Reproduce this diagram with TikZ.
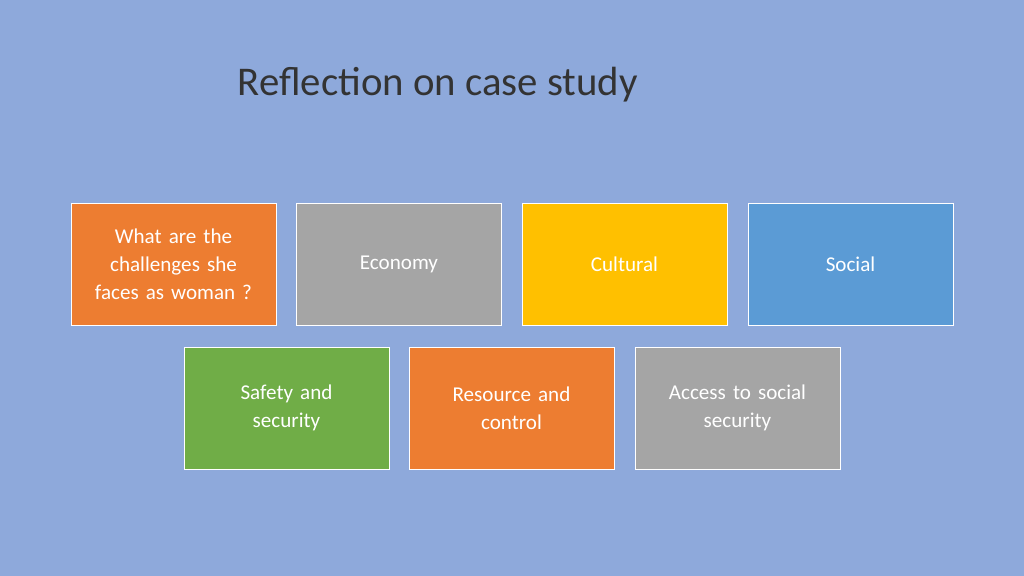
\documentclass[tikz,border=0pt]{standalone}
\usepackage{fontspec}
\setmainfont{Carlito}
\definecolor{bgblue}{HTML}{8EA9DB}
\definecolor{orangebox}{HTML}{ED7D31}
\definecolor{graybox}{HTML}{A5A5A5}
\definecolor{goldbox}{HTML}{FFC000}
\definecolor{bluebox}{HTML}{5B9BD5}
\definecolor{greenbox}{HTML}{70AD47}
\begin{document}
\begin{tikzpicture}[x=0.025cm,y=-0.025cm,
  topic/.style={draw=white,thin,minimum width=5.125cm,minimum height=3.05cm,
    text width=4.6cm,align=center,text=white,font=\fontsize{15}{20}\selectfont}]
\fill[bgblue] (0,0) rectangle (1024,576); % le fond
\node[anchor=west,font=\fontsize{29}{34}\selectfont,text=black!80] (title) at (233,85) {Reflection on case study};
% premiere rangee
\node[topic,fill=orangebox] (challenges) at (173.5,264) {What are the challenges she faces as woman ?};
\node[topic,fill=graybox] (economy) at (399,264) {Economy};
\node[topic,fill=goldbox] (cultural) at (624.5,264) {Cultural};
\node[topic,fill=bluebox] (social) at (850.5,264) {Social};
% deuxieme rangee
\node[topic,fill=greenbox] (safety) at (286.5,408) {Safety and\\security};
\node[topic,fill=orangebox] (resource) at (511.5,408) {Resource and\\control};
\node[topic,fill=graybox] (access) at (737.5,408) {Access to social\\security};
\end{tikzpicture}
\end{document}
